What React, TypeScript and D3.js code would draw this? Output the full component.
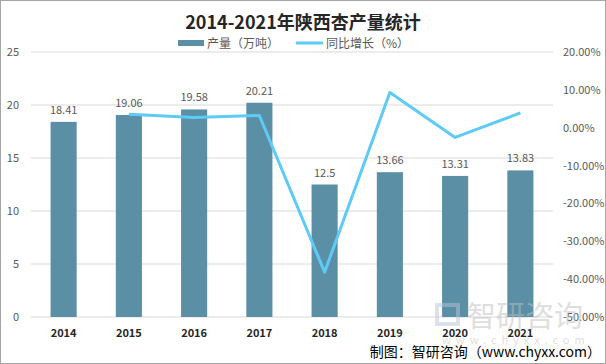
import React from "react";
import * as d3 from "d3";

const years = ["2014", "2015", "2016", "2017", "2018", "2019", "2020", "2021"];
const output = [18.41, 19.06, 19.58, 20.21, 12.5, 13.66, 13.31, 13.83];
const growthYears = ["2015", "2016", "2017", "2018", "2019", "2020", "2021"];
const growth = [3.53, 2.73, 3.22, -38.15, 9.28, -2.56, 3.91];
const leftTicks = [0, 5, 10, 15, 20, 25];
const rightTicks = [20, 10, 0, -10, -20, -30, -40, -50];

const W = 606, H = 364;
const M = { left: 31, right: 553, top: 52, bottom: 317 };

export default function App() {
  const x = d3.scaleBand().domain(years).range([M.left, M.right]).paddingInner(0.6).paddingOuter(0.3);
  const yL = d3.scaleLinear().domain([0, 25]).range([M.bottom, M.top]);
  const yR = d3.scaleLinear().domain([-50, 20]).range([M.bottom, M.top]);
  const cx = (y: string) => (x(y) as number) + x.bandwidth() / 2;
  const line = d3.line<number>().x((_, i) => cx(growthYears[i])).y((d) => yR(d));
  const font = "'Microsoft YaHei', 'Noto Sans CJK SC', sans-serif";
  return (
    <svg width={W} height={H} style={{ position: "absolute", left: 0, top: 0, fontFamily: font }}>
      <rect x={0.5} y={0.5} width={W - 1} height={H - 1} fill="#fff" stroke="#a6a6a6" />
      <text x={303} y={29} textAnchor="middle" fontSize={18} fontWeight="bold" fill="#262626">
        2014-2021年陕西杏产量统计
      </text>
      <rect x={178} y={40} width={26} height={6} fill="#5b8fa5" />
      <text x={207} y={48} fontSize={12} fill="#595959">产量（万吨）</text>
      <line x1={296} x2={323} y1={43} y2={43} stroke="#5ecbf6" strokeWidth={3} />
      <text x={326} y={48} fontSize={12} fill="#595959">同比增长（%）</text>
      {leftTicks.map((t) => (
        <g key={t}>
          <line x1={M.left} x2={M.right} y1={yL(t)} y2={yL(t)} stroke="#d9d9d9" />
          <text x={19} y={yL(t) + 4} textAnchor="end" fontSize={11} fill="#595959">{t}</text>
        </g>
      ))}
      {rightTicks.map((t) => (
        <text key={t} x={563} y={yR(t) + 4} fontSize={11} fill="#595959">{t.toFixed(2)}%</text>
      ))}
      {years.map((y, i) => (
        <g key={y}>
          <rect x={x(y)} y={yL(output[i])} width={x.bandwidth()} height={yL(0) - yL(output[i])} fill="#5b8fa5" />
          <text x={cx(y)} y={yL(output[i]) - 8} textAnchor="middle" fontSize={11} fill="#595959">{output[i]}</text>
          <text x={cx(y)} y={337} textAnchor="middle" fontSize={11} fontWeight="bold" fill="#262626">{y}</text>
        </g>
      ))}
      <path d={line(growth) || ""} fill="none" stroke="#5ecbf6" strokeWidth={3} strokeLinejoin="round" />
      <g opacity={0.5}>
        <rect x={437} y={305} width={21} height={19} fill="none" stroke="#b8c6d8" strokeWidth={4} />
        <text x={467} y={327} fontSize={29} fill="#bfbfbf">智研咨询</text>
        <text x={442} y={344} fontSize={11} fill="#bfbfbf" letterSpacing={5}>www.chyxx.com</text>
      </g>
      <text x={601} y={357} textAnchor="end" fontSize={14} fill="#000">制图：智研咨询（www.chyxx.com）</text>
    </svg>
  );
}
